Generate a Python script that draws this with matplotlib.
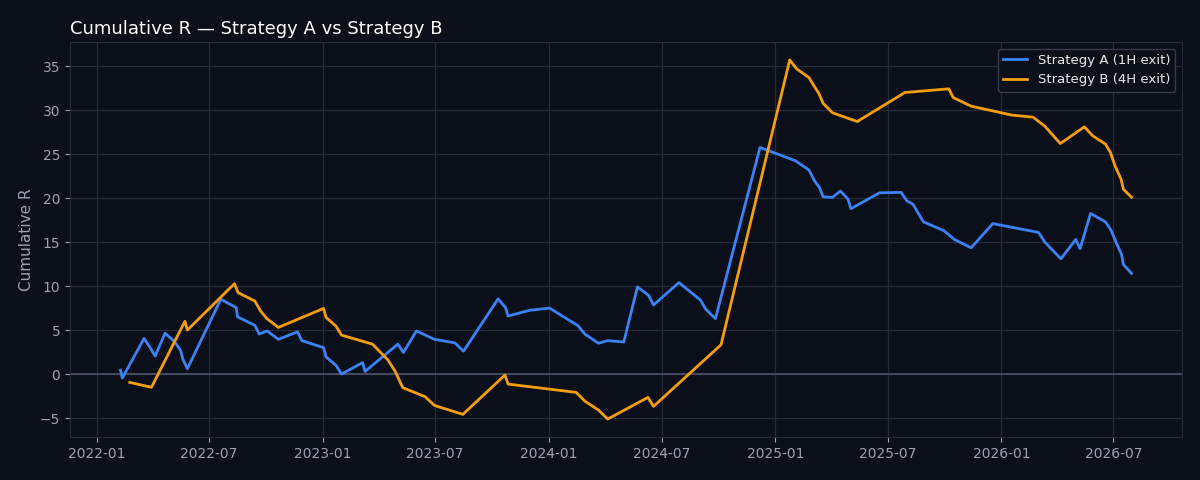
import pandas as pd
import matplotlib
matplotlib.use("Agg")
import matplotlib.pyplot as plt
import matplotlib.dates as mdates

# Strategy A (1H exit) - cumulative R by trade close date
dates_a = [
    "2022-02-08", "2022-02-11", "2022-03-18", "2022-03-27", "2022-04-05", "2022-04-21",
    "2022-05-06", "2022-05-16", "2022-05-20", "2022-05-27", "2022-07-20", "2022-08-14",
    "2022-08-16", "2022-09-13", "2022-09-20", "2022-10-03", "2022-10-21", "2022-11-21",
    "2022-11-28", "2023-01-02", "2023-01-06", "2023-01-22", "2023-01-31", "2023-03-06",
    "2023-03-10", "2023-05-02", "2023-05-11", "2023-06-01", "2023-06-30", "2023-08-02",
    "2023-08-16", "2023-10-11", "2023-10-23", "2023-10-27", "2023-12-01", "2024-01-02",
    "2024-02-17", "2024-02-28", "2024-03-21", "2024-04-05", "2024-05-01", "2024-05-23",
    "2024-06-10", "2024-06-18", "2024-07-29", "2024-09-02", "2024-09-10", "2024-09-26",
    "2024-12-07", "2025-02-02", "2025-02-24", "2025-03-05", "2025-03-13", "2025-03-19",
    "2025-04-03", "2025-04-16", "2025-04-28", "2025-05-03", "2025-06-18", "2025-07-23",
    "2025-08-01", "2025-08-11", "2025-08-28", "2025-09-30", "2025-10-17", "2025-11-13",
    "2025-12-18", "2026-03-02", "2026-03-12", "2026-04-07", "2026-05-01", "2026-05-08",
    "2026-05-25", "2026-06-18", "2026-06-27", "2026-07-05", "2026-07-14", "2026-07-17",
    "2026-07-30",
]
cum_a = [
    0.45, -0.45, 4.05, 3.1, 2.05, 4.65,
    3.7, 2.7, 1.65, 0.6, 8.5, 7.55,
    6.5, 5.55, 4.55, 4.9, 3.95, 4.8,
    3.8, 3.0, 1.95, 1.0, 0.0, 1.3,
    0.3, 3.4, 2.45, 4.9, 3.95, 3.55,
    2.6, 8.55, 7.55, 6.6, 7.25, 7.5,
    5.5, 4.55, 3.5, 3.8, 3.65, 9.9,
    8.95, 7.85, 10.4, 8.4, 7.4, 6.3,
    25.75, 24.25, 23.2, 21.97, 21.2, 20.15,
    20.08, 20.8, 19.9, 18.8, 20.6, 20.65,
    19.7, 19.3, 17.3, 16.3, 15.3, 14.35,
    17.1, 16.1, 15.0, 13.1, 15.3, 14.25,
    18.25, 17.3, 16.35, 15.0, 13.6, 12.45,
    11.45,
]

# Strategy B (4H exit)
dates_b = [
    "2022-02-23", "2022-03-30", "2022-05-23", "2022-05-27", "2022-08-11", "2022-08-17",
    "2022-09-13", "2022-09-22", "2022-10-02", "2022-10-21", "2023-01-02", "2023-01-06",
    "2023-01-22", "2023-01-31", "2023-03-22", "2023-04-16", "2023-04-28", "2023-05-10",
    "2023-06-15", "2023-06-30", "2023-08-15", "2023-10-22", "2023-10-27", "2024-02-14",
    "2024-02-28", "2024-03-21", "2024-04-05", "2024-06-09", "2024-06-18", "2024-10-05",
    "2025-01-24", "2025-02-04", "2025-02-24", "2025-03-05", "2025-03-12", "2025-03-19",
    "2025-04-03", "2025-05-13", "2025-07-29", "2025-10-08", "2025-10-15", "2025-11-13",
    "2026-01-18", "2026-02-21", "2026-03-12", "2026-04-06", "2026-05-15", "2026-05-28",
    "2026-06-18", "2026-06-26", "2026-07-04", "2026-07-13", "2026-07-17", "2026-07-30",
]
cum_b = [
    -0.95, -1.5, 6.0, 5.0, 10.27, 9.25,
    8.3, 7.2, 6.33, 5.3, 7.46, 6.44,
    5.45, 4.43, 3.4, 1.6, 0.27, -1.55,
    -2.57, -3.56, -4.58, -0.11, -1.14, -2.08,
    -3.07, -4.09, -5.11, -2.65, -3.67, 3.33,
    35.7, 34.7, 33.7, 32.67, 31.9, 30.76,
    29.7, 28.7, 32.0, 32.42, 31.43, 30.45,
    29.43, 29.2, 28.18, 26.2, 28.1, 27.1,
    26.14, 25.2, 23.57, 22.2, 21.0, 20.1,
]

bg = '#0b0f19'
grid_c = '#232a38'
tick_c = '#9aa3b2'

fig = plt.figure(figsize=(12, 4.8), dpi=100, facecolor=bg)
ax = fig.add_axes([0.0583, 0.0896, 0.9267, 0.8229])
ax.set_facecolor(bg)

ax.plot(pd.to_datetime(dates_a), cum_a, color='#3b82f6', linewidth=2, label='Strategy A (1H exit)')
ax.plot(pd.to_datetime(dates_b), cum_b, color='#f59e0b', linewidth=2, label='Strategy B (4H exit)')
ax.axhline(0, color='#4a5568', linewidth=1.2, zorder=1)

ax.xaxis.set_major_locator(mdates.MonthLocator(bymonth=[1, 7]))
ax.xaxis.set_major_formatter(mdates.DateFormatter('%Y-%m'))

ax.grid(True, color=grid_c, linewidth=0.9)
ax.set_axisbelow(True)
for s in ax.spines.values():
    s.set_color(grid_c)
ax.tick_params(colors=tick_c, labelsize=10)

ax.set_ylabel('Cumulative R', color=tick_c, fontsize=11)
ax.set_title('Cumulative R — Strategy A vs Strategy B', loc='left', color='white', fontsize=13)

leg = ax.legend(loc='upper right', facecolor=bg, edgecolor='#3a4252', fontsize=9.5,
                framealpha=0.9, handlelength=1.8)
for t in leg.get_texts():
    t.set_color('#e5e7eb')

plt.savefig('out.png', dpi=100, facecolor=bg)
